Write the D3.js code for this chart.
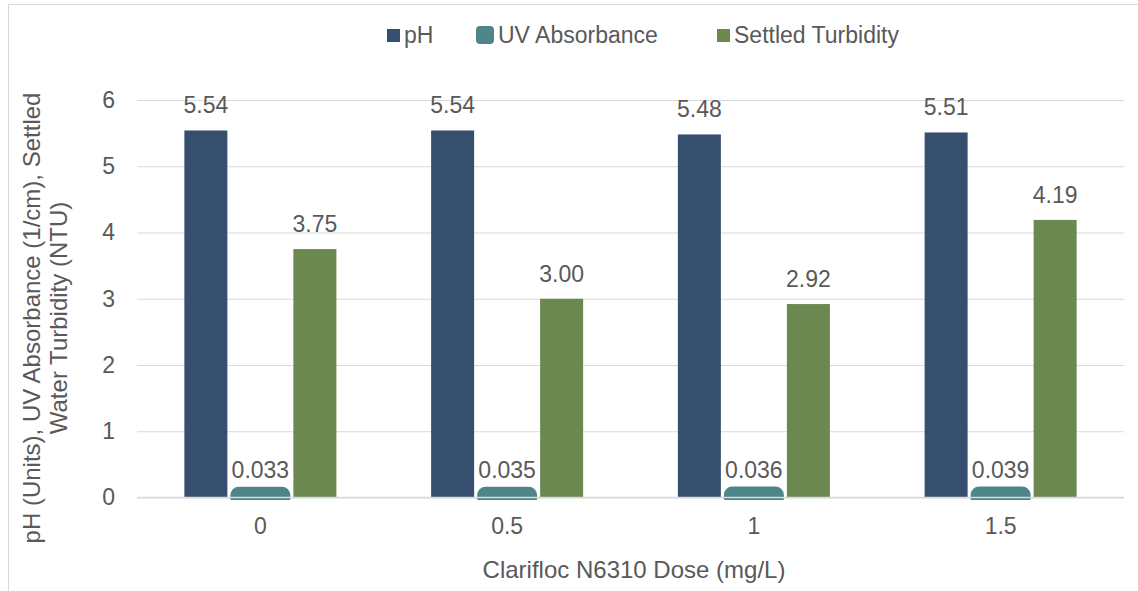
<!DOCTYPE html>
<html>
<head>
<meta charset="utf-8">
<script src="https://cdn.jsdelivr.net/npm/d3@7"></script>
<style>
  body { margin: 0; background: #fff; }
  svg text { font-family: "Liberation Sans", Arial, sans-serif; fill: #595959; }
</style>
</head>
<body>
<svg id="chart" width="1138" height="591"></svg>
<script>
var doses = ["0", "0.5", "1", "1.5"];
var series = ["pH", "UV Absorbance", "Settled Turbidity"];
var phVals = [5.54, 5.54, 5.48, 5.51];
var uvVals = [0.033, 0.035, 0.036, 0.039];
var turbVals = [3.75, 3.00, 2.92, 4.19];
var yTicks = [0, 1, 2, 3, 4, 5, 6];
var colors = ["#374f6f", "#4e8589", "#6a8850"];

var svg = d3.select("#chart");
let plotLeft = 137, plotRight = 1124, plotTop = 100, plotBottom = 497.5;

// outer frame (only top/left show inside the picture)
svg.append("rect")
    .attr("x", 8.5).attr("y", 4.5)
    .attr("width", 1300).attr("height", 800)
    .attr("fill", "none").attr("stroke", "#d9d9d9");

var yScale = d3.scaleLinear().domain([0, 6]).range([plotBottom, plotTop]);
var x0 = d3.scaleBand().domain(doses).range([plotLeft, plotRight]);
var x1 = d3.scaleBand().domain(series).range([0, x0.bandwidth()])
    .paddingInner(0.211).paddingOuter(0.869);

// gridlines
var yAxis = d3.axisLeft(yScale).tickValues(yTicks).tickSize(-(plotRight - plotLeft)).tickFormat(d3.format("d"));
let ga = svg.append("g").attr("transform", `translate(${plotLeft},0)`).call(yAxis);
ga.select(".domain").remove();
ga.selectAll(".tick line").attr("stroke", "#d9d9d9").attr("stroke-width", 1);
ga.selectAll(".tick text").attr("x", -22).attr("font-size", "23px").attr("fill", "#595959");

var rows = doses.map((d, i) => ({dose: d, vals: [phVals[i], uvVals[i], turbVals[i]]}));

svg.append("clipPath").attr("id", "plotclip")
  .append("rect").attr("x", 0).attr("y", 0).attr("width", 1138).attr("height", 500);

let bars = svg.append("g").attr("clip-path", "url(#plotclip)");
rows.forEach(r => {
    r.vals.forEach((v, j) => {
        let rect = bars.append("rect")
            .attr("x", x0(r.dose) + x1(series[j]))
            .attr("y", yScale(v))
            .attr("width", x1.bandwidth())
            .attr("height", yScale(0) - yScale(v))
            .attr("fill", colors[j]);
        if (j == 1) {
            // thick round outline on the UV series
            rect.attr("stroke", colors[j]).attr("stroke-width", 17).attr("stroke-linejoin", "round");
        }
    });
});

// x baseline
svg.append("line")
    .attr("x1", plotLeft).attr("x2", plotRight)
    .attr("y1", yScale(0)).attr("y2", yScale(0))
    .attr("stroke", "#d9d9d9").attr("stroke-width", 1.5);

// value labels
rows.forEach(r => {
    r.vals.forEach((v, j) => {
        svg.append("text")
            .attr("x", x0(r.dose) + x1(series[j]) + x1.bandwidth() / 2)
            .attr("y", yScale(v) - 17)
            .attr("text-anchor", "middle")
            .attr("font-size", "23px")
            .text(j == 1 ? v.toFixed(3) : v.toFixed(2));
    });
});

// x tick labels
var xAxis = d3.axisBottom(x0).tickSize(0).tickPadding(0);
let gx = svg.append("g").attr("transform", `translate(0,${plotBottom})`).call(xAxis);
gx.select(".domain").remove();
gx.selectAll(".tick text").attr("y", 36).attr("dy", null).attr("font-size", "23px").attr("fill", "#595959");

// axis titles
svg.append("text")
    .attr("x", 634).attr("y", 578)
    .attr("text-anchor", "middle")
    .attr("font-size", "24px")
    .text("Clarifloc N6310 Dose (mg/L)");

let yt = svg.append("text")
    .attr("transform", "translate(40,318) rotate(-90)")
    .attr("text-anchor", "middle")
    .attr("font-size", "24px");
yt.append("tspan").attr("x", 0).attr("y", 0).text("pH (Units), UV Absorbance (1/cm), Settled");
yt.append("tspan").attr("x", 0).attr("y", 27).text("Water Turbidity (NTU)");

// legend
var legendX = [387, 476, 717];
let lg = svg.append("g");
series.forEach((s, j) => {
    if (j == 1) {
        lg.append("rect")
            .attr("x", legendX[j] + 4).attr("y", 26 + 4)
            .attr("width", 10).attr("height", 10)
            .attr("fill", colors[j]).attr("stroke", colors[j])
            .attr("stroke-width", 8).attr("stroke-linejoin", "round");
        lg.append("text").attr("x", legendX[j] + 22).attr("y", 43).attr("font-size", "23px").text(s);
    } else {
        lg.append("rect")
            .attr("x", legendX[j]).attr("y", 29)
            .attr("width", 13).attr("height", 13)
            .attr("fill", colors[j]);
        lg.append("text").attr("x", legendX[j] + 17).attr("y", 43).attr("font-size", "23px").text(s);
    }
});
</script>
</body>
</html>
